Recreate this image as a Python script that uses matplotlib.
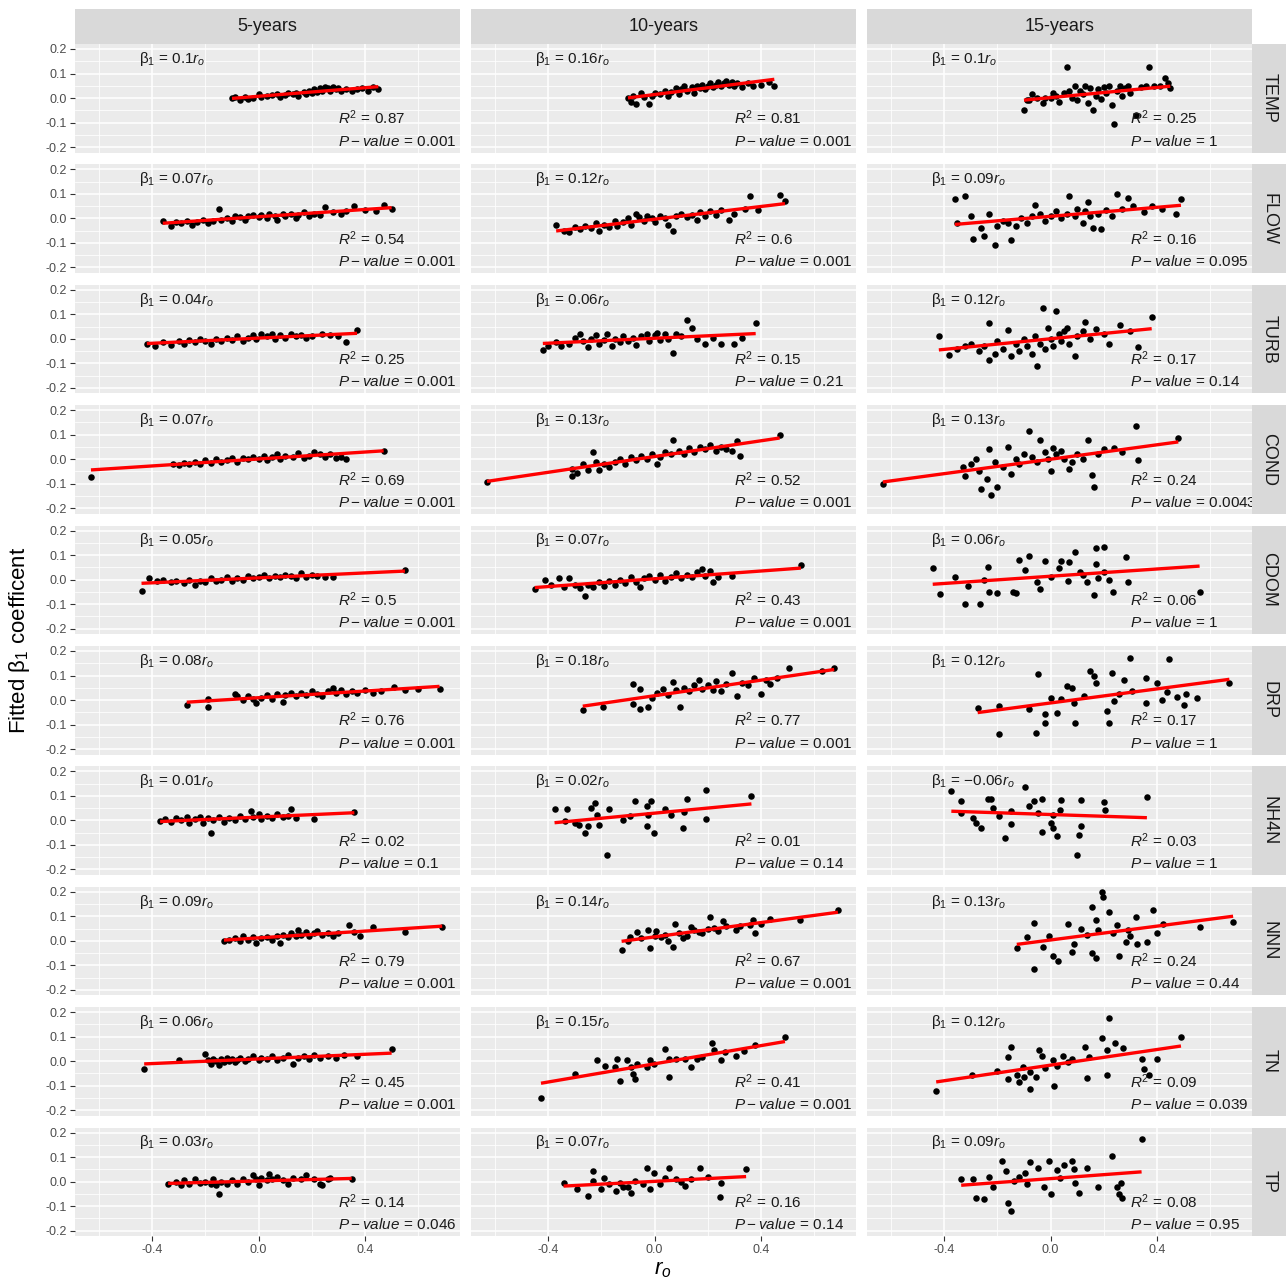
import numpy as np
import matplotlib
matplotlib.use("Agg")
import matplotlib.pyplot as plt
from matplotlib.ticker import FixedLocator

plt.rcParams["font.family"] = ["Liberation Sans", "DejaVu Sans"]
plt.rcParams["mathtext.fontset"] = "custom"
plt.rcParams["mathtext.rm"] = "Liberation Sans"
plt.rcParams["mathtext.it"] = "Liberation Sans:italic"
plt.rcParams["axes.unicode_minus"] = False

periods = ["5-years", "10-years", "15-years"]
variables = ["TEMP", "FLOW", "TURB", "COND", "CDOM", "DRP", "NH4N", "NNN", "TN", "TP"]

beta = [["0.1", "0.16", "0.1"], ["0.07", "0.12", "0.09"], ["0.04", "0.06", "0.12"],
        ["0.07", "0.13", "0.13"], ["0.05", "0.07", "0.06"], ["0.08", "0.18", "0.12"],
        ["0.01", "0.02", "−0.06"], ["0.09", "0.14", "0.13"], ["0.06", "0.15", "0.12"],
        ["0.03", "0.07", "0.09"]]
r2 = [["0.87", "0.81", "0.25"], ["0.54", "0.6", "0.16"], ["0.25", "0.15", "0.17"],
      ["0.69", "0.52", "0.24"], ["0.5", "0.43", "0.06"], ["0.76", "0.77", "0.17"],
      ["0.02", "0.01", "0.03"], ["0.79", "0.67", "0.24"], ["0.45", "0.41", "0.09"],
      ["0.14", "0.16", "0.08"]]
pval = [["0.001", "0.001", "1"], ["0.001", "0.001", "0.095"], ["0.001", "0.21", "0.14"],
        ["0.001", "0.001", "0.0043"], ["0.001", "0.001", "1"], ["0.001", "0.001", "1"],
        ["0.1", "0.14", "1"], ["0.001", "0.001", "0.44"], ["0.001", "0.001", "0.039"],
        ["0.046", "0.14", "0.95"]]

# (r_o, fitted beta1) points per panel
temp_5 = [(-0.10, 0.00), (-0.09, 0.005), (-0.07, -0.008), (-0.05, 0.003), (-0.04, -0.005), (-0.02, 0.0),
          (0.00, 0.015), (0.01, 0.005), (0.03, 0.008), (0.05, 0.012), (0.07, 0.015), (0.08, 0.005),
          (0.10, 0.012), (0.11, 0.02), (0.13, 0.015), (0.14, 0.022), (0.15, 0.01), (0.17, 0.025),
          (0.18, 0.018), (0.19, 0.03), (0.20, 0.02), (0.21, 0.035), (0.22, 0.025), (0.23, 0.04),
          (0.24, 0.03), (0.25, 0.045), (0.26, 0.04), (0.27, 0.03), (0.28, 0.045), (0.29, 0.035),
          (0.30, 0.04), (0.31, 0.028), (0.33, 0.038), (0.35, 0.03), (0.37, 0.035), (0.39, 0.04),
          (0.41, 0.03), (0.43, 0.045), (0.45, 0.035)]
temp_10 = [(-0.10, 0.0), (-0.09, -0.015), (-0.08, 0.01), (-0.07, -0.025), (-0.05, 0.02), (-0.04, 0.005),
           (-0.02, -0.025), (-0.01, 0.01), (0.0, 0.02), (0.02, 0.015), (0.04, 0.03), (0.05, 0.01),
           (0.06, 0.025), (0.08, 0.04), (0.09, 0.015), (0.10, 0.035), (0.11, 0.05), (0.12, 0.03),
           (0.14, 0.045), (0.15, 0.02), (0.16, 0.05), (0.17, 0.04), (0.18, 0.055), (0.19, 0.035),
           (0.20, 0.05), (0.21, 0.06), (0.22, 0.045), (0.23, 0.055), (0.24, 0.065), (0.25, 0.05),
           (0.26, 0.06), (0.27, 0.07), (0.28, 0.055), (0.29, 0.065), (0.30, 0.05), (0.31, 0.06),
           (0.33, 0.045), (0.35, 0.06), (0.37, 0.05), (0.40, 0.055), (0.43, 0.065), (0.45, 0.05)]
temp_15 = [(-0.10, -0.05), (-0.09, -0.01), (-0.08, -0.01), (-0.07, 0.015), (-0.05, 0.0), (-0.03, -0.02),
           (-0.02, 0.0), (0.0, 0.0), (0.01, 0.02), (0.02, 0.01), (0.03, -0.015), (0.05, 0.02),
           (0.06, 0.125), (0.07, 0.03), (0.08, 0.0), (0.09, 0.05), (0.10, -0.01), (0.11, 0.03),
           (0.12, 0.015), (0.13, 0.05), (0.14, -0.02), (0.15, 0.04), (0.16, -0.05), (0.17, 0.01),
           (0.18, 0.035), (0.19, -0.005), (0.20, 0.045), (0.21, 0.02), (0.22, 0.05), (0.23, -0.03),
           (0.24, -0.105), (0.25, 0.03), (0.26, 0.05), (0.27, 0.01), (0.28, 0.04), (0.29, 0.05),
           (0.30, 0.02), (0.32, -0.07), (0.34, 0.045), (0.36, 0.05), (0.37, 0.125), (0.39, 0.05),
           (0.41, 0.05), (0.43, 0.08), (0.44, 0.06), (0.45, 0.04)]

flow_5 = [(-0.36, -0.01), (-0.33, -0.03), (-0.31, -0.015), (-0.29, -0.02), (-0.27, -0.01), (-0.25, -0.025),
          (-0.23, -0.015), (-0.21, -0.005), (-0.19, -0.02), (-0.17, -0.01), (-0.15, 0.04), (-0.14, -0.005),
          (-0.12, 0.0), (-0.10, -0.01), (-0.09, 0.01), (-0.07, 0.005), (-0.05, -0.005), (-0.04, 0.01),
          (-0.02, 0.015), (0.0, 0.005), (0.01, 0.015), (0.03, 0.0), (0.04, 0.02), (0.06, 0.01),
          (0.07, -0.005), (0.09, 0.02), (0.10, 0.01), (0.12, 0.02), (0.14, 0.0), (0.15, 0.015),
          (0.17, 0.025), (0.19, 0.01), (0.21, 0.02), (0.23, 0.015), (0.25, 0.045), (0.28, 0.025),
          (0.31, 0.02), (0.33, 0.03), (0.36, 0.05), (0.40, 0.035), (0.44, 0.03), (0.47, 0.055),
          (0.50, 0.04)]
flow_10 = [(-0.37, -0.027), (-0.34, -0.05), (-0.32, -0.055), (-0.30, -0.035), (-0.28, -0.045), (-0.26, -0.03),
           (-0.24, -0.04), (-0.22, -0.02), (-0.21, -0.05), (-0.19, -0.025), (-0.17, -0.035), (-0.15, -0.01),
           (-0.14, -0.03), (-0.12, -0.015), (-0.10, 0.0), (-0.09, -0.025), (-0.07, 0.02), (-0.06, 0.005),
           (-0.04, -0.01), (-0.03, 0.01), (-0.01, 0.0), (0.0, -0.015), (0.02, 0.01), (0.04, 0.0),
           (0.05, -0.025), (0.07, -0.052), (0.08, 0.01), (0.10, 0.02), (0.12, 0.005), (0.14, 0.015),
           (0.16, -0.005), (0.17, 0.025), (0.19, 0.01), (0.21, 0.03), (0.23, 0.015), (0.25, 0.035),
           (0.28, -0.005), (0.30, 0.02), (0.34, 0.04), (0.36, 0.09), (0.39, 0.035), (0.47, 0.095),
           (0.49, 0.07)]
flow_15 = [(-0.36, 0.08), (-0.35, -0.02), (-0.32, 0.09), (-0.30, 0.01), (-0.29, -0.085), (-0.26, -0.04),
           (-0.25, -0.07), (-0.23, 0.02), (-0.21, -0.11), (-0.20, -0.03), (-0.18, -0.01), (-0.16, -0.02),
           (-0.15, -0.09), (-0.13, -0.03), (-0.11, 0.0), (-0.09, -0.02), (-0.07, 0.01), (-0.06, 0.055),
           (-0.04, 0.02), (-0.02, -0.01), (0.0, 0.01), (0.02, 0.03), (0.04, 0.0), (0.06, 0.02),
           (0.07, 0.09), (0.09, 0.01), (0.10, 0.04), (0.12, -0.02), (0.13, 0.03), (0.14, 0.065),
           (0.15, 0.01), (0.16, -0.04), (0.18, 0.02), (0.19, -0.045), (0.21, 0.035), (0.23, 0.01),
           (0.25, 0.10), (0.27, 0.04), (0.29, 0.085), (0.31, 0.05), (0.35, 0.025), (0.38, 0.05),
           (0.42, 0.04), (0.47, 0.02), (0.49, 0.08)]

turb_5 = [(-0.42, -0.02), (-0.39, -0.03), (-0.36, -0.015), (-0.33, -0.025), (-0.30, -0.01), (-0.28, -0.02),
          (-0.26, -0.005), (-0.24, -0.015), (-0.22, 0.0), (-0.20, -0.01), (-0.18, -0.02), (-0.16, 0.0),
          (-0.14, -0.01), (-0.12, 0.005), (-0.10, -0.005), (-0.08, 0.01), (-0.06, -0.01), (-0.04, 0.005),
          (-0.02, 0.015), (-0.01, 0.0), (0.01, 0.02), (0.03, 0.01), (0.05, 0.02), (0.06, 0.0),
          (0.08, 0.015), (0.10, 0.005), (0.12, 0.02), (0.14, 0.01), (0.16, 0.015), (0.18, 0.005),
          (0.20, 0.01), (0.24, 0.02), (0.27, 0.015), (0.30, 0.01), (0.33, -0.015), (0.37, 0.035)]
turb_10 = [(-0.42, -0.045), (-0.40, -0.03), (-0.37, -0.015), (-0.35, -0.03), (-0.32, -0.02), (-0.30, 0.005),
           (-0.28, 0.02), (-0.27, -0.01), (-0.25, -0.035), (-0.24, 0.0), (-0.22, 0.015), (-0.21, -0.02),
           (-0.19, -0.005), (-0.18, 0.02), (-0.16, -0.03), (-0.15, 0.0), (-0.13, -0.015), (-0.12, 0.01),
           (-0.10, -0.01), (-0.08, 0.005), (-0.07, -0.025), (-0.05, 0.01), (-0.03, 0.02), (-0.02, -0.01),
           (0.0, 0.015), (0.01, 0.025), (0.02, -0.005), (0.04, 0.02), (0.05, 0.0), (0.07, -0.058),
           (0.08, 0.02), (0.10, 0.01), (0.12, 0.075), (0.14, 0.045), (0.16, 0.0), (0.19, -0.02),
           (0.22, 0.005), (0.25, -0.02), (0.30, -0.02), (0.33, 0.005), (0.38, 0.065)]
turb_15 = [(-0.42, 0.01), (-0.38, -0.068), (-0.35, -0.04), (-0.32, -0.03), (-0.30, -0.02), (-0.27, -0.05),
           (-0.25, -0.03), (-0.23, 0.065), (-0.23, -0.085), (-0.21, -0.06), (-0.20, -0.01), (-0.18, -0.04),
           (-0.16, 0.035), (-0.15, -0.07), (-0.13, -0.02), (-0.12, -0.05), (-0.10, 0.0), (-0.09, -0.03),
           (-0.07, -0.06), (-0.06, 0.01), (-0.05, -0.11), (-0.04, -0.02), (-0.03, 0.125), (-0.02, -0.04),
           (-0.01, 0.045), (0.0, 0.0), (0.01, -0.03), (0.02, 0.115), (0.03, 0.02), (0.04, -0.01),
           (0.05, 0.03), (0.06, 0.045), (0.07, -0.02), (0.09, -0.07), (0.10, 0.01), (0.12, 0.03),
           (0.13, 0.07), (0.15, 0.0), (0.17, 0.04), (0.20, 0.02), (0.22, -0.02), (0.26, 0.055),
           (0.30, 0.03), (0.33, -0.035), (0.38, 0.09)]

cond_5 = [(-0.63, -0.072), (-0.32, -0.02), (-0.30, -0.025), (-0.28, -0.015), (-0.26, -0.02), (-0.24, -0.01),
          (-0.22, -0.02), (-0.20, -0.005), (-0.18, -0.015), (-0.16, 0.0), (-0.14, -0.01), (-0.12, -0.005),
          (-0.10, 0.005), (-0.08, -0.01), (-0.06, 0.005), (-0.04, 0.0), (-0.02, 0.01), (0.0, 0.0),
          (0.02, 0.015), (0.03, -0.005), (0.05, 0.01), (0.07, 0.02), (0.08, 0.0), (0.10, 0.015),
          (0.13, 0.01), (0.15, 0.025), (0.17, 0.005), (0.19, 0.015), (0.21, 0.03), (0.23, 0.02),
          (0.25, 0.01), (0.27, 0.02), (0.29, 0.005), (0.31, 0.01), (0.33, 0.0), (0.47, 0.034)]
cond_10 = [(-0.63, -0.095), (-0.31, -0.04), (-0.31, -0.07), (-0.29, -0.055), (-0.27, -0.02), (-0.25, -0.045),
           (-0.23, 0.03), (-0.22, -0.01), (-0.21, -0.045), (-0.19, -0.02), (-0.17, -0.03), (-0.15, -0.01),
           (-0.13, 0.0), (-0.11, -0.02), (-0.09, 0.01), (-0.07, -0.005), (-0.05, 0.015), (-0.03, 0.0),
           (-0.01, 0.02), (0.01, -0.02), (0.02, 0.01), (0.04, 0.03), (0.06, 0.02), (0.07, 0.08),
           (0.09, 0.035), (0.11, 0.02), (0.13, 0.045), (0.15, 0.03), (0.17, 0.05), (0.19, 0.04),
           (0.21, 0.06), (0.23, 0.035), (0.25, 0.05), (0.27, 0.04), (0.29, 0.035), (0.31, 0.075),
           (0.32, 0.015), (0.47, 0.10)]
cond_15 = [(-0.63, -0.10), (-0.33, -0.03), (-0.32, -0.07), (-0.30, -0.02), (-0.28, 0.0), (-0.27, -0.05),
           (-0.26, -0.12), (-0.24, -0.08), (-0.23, 0.04), (-0.225, -0.145), (-0.21, -0.01), (-0.20, -0.115),
           (-0.18, -0.03), (-0.16, 0.05), (-0.15, -0.06), (-0.13, 0.0), (-0.12, -0.02), (-0.10, 0.02),
           (-0.08, 0.115), (-0.07, 0.01), (-0.05, -0.01), (-0.04, 0.08), (-0.02, 0.03), (-0.01, 0.0),
           (0.0, -0.05), (0.01, 0.045), (0.02, 0.02), (0.04, 0.035), (0.05, 0.0), (0.07, -0.04),
           (0.08, -0.01), (0.10, 0.02), (0.12, 0.0), (0.14, 0.08), (0.155, -0.065), (0.165, -0.115),
           (0.18, 0.02), (0.20, 0.04), (0.24, 0.045), (0.27, 0.03), (0.32, 0.135), (0.33, -0.005),
           (0.48, 0.085)]

cdom_5 = [(-0.44, -0.045), (-0.41, 0.005), (-0.38, -0.005), (-0.36, 0.0), (-0.33, -0.01), (-0.31, -0.005),
          (-0.28, -0.015), (-0.26, 0.0), (-0.24, -0.02), (-0.22, -0.005), (-0.20, -0.01), (-0.18, 0.005),
          (-0.16, -0.005), (-0.14, 0.0), (-0.12, 0.01), (-0.10, -0.005), (-0.08, 0.005), (-0.06, 0.0),
          (-0.04, 0.015), (-0.02, 0.005), (0.0, 0.01), (0.02, 0.02), (0.04, 0.005), (0.06, 0.015),
          (0.08, 0.01), (0.10, 0.02), (0.12, 0.015), (0.14, 0.005), (0.16, 0.025), (0.18, 0.01),
          (0.20, 0.02), (0.22, 0.015), (0.25, 0.01), (0.28, 0.01), (0.55, 0.04)]
cdom_10 = [(-0.45, -0.04), (-0.41, 0.0), (-0.39, -0.02), (-0.36, 0.005), (-0.34, -0.03), (-0.32, 0.005),
           (-0.30, -0.02), (-0.28, -0.035), (-0.26, -0.065), (-0.25, -0.02), (-0.23, -0.03), (-0.21, -0.01),
           (-0.19, -0.025), (-0.17, -0.005), (-0.15, -0.02), (-0.13, 0.0), (-0.11, -0.015), (-0.09, 0.01),
           (-0.07, -0.01), (-0.055, -0.03), (-0.04, 0.005), (-0.02, 0.015), (0.0, 0.0), (0.02, 0.02),
           (0.04, -0.005), (0.06, 0.01), (0.08, 0.025), (0.10, 0.005), (0.12, 0.02), (0.14, 0.01),
           (0.16, 0.03), (0.18, 0.045), (0.19, 0.015), (0.21, 0.035), (0.22, -0.01), (0.24, 0.01),
           (0.29, 0.015), (0.55, 0.06)]
cdom_15 = [(-0.443, 0.046), (-0.415, -0.06), (-0.36, 0.012), (-0.32, -0.10), (-0.265, -0.10), (-0.31, -0.027),
           (-0.236, 0.05), (-0.23, -0.05), (-0.20, -0.055), (-0.14, -0.05), (-0.13, -0.055), (-0.12, 0.08),
           (-0.08, 0.098), (-0.096, 0.04), (-0.05, -0.008), (-0.02, 0.077), (0.03, 0.046), (0.04, 0.077),
           (0.07, 0.07), (0.09, 0.114), (0.065, -0.004), (0.11, 0.03), (0.164, -0.063), (0.17, 0.128),
           (0.20, 0.132), (0.17, 0.064), (0.18, 0.007), (0.20, 0.03), (0.235, -0.05), (0.285, 0.091),
           (0.29, -0.008), (0.56, -0.05), (0.136, -0.008), (-0.04, -0.038), (-0.25, 0.0), (0.0, 0.01),
           (0.12, 0.02), (0.22, 0.0)]

drp_5 = [(-0.27, -0.02), (-0.19, -0.03), (-0.19, 0.003), (-0.09, 0.025), (-0.08, 0.015), (-0.06, 0.0),
         (-0.04, 0.015), (-0.02, 0.005), (-0.01, -0.012), (0.01, 0.01), (0.03, 0.02), (0.05, 0.005),
         (0.07, 0.025), (0.09, -0.008), (0.10, 0.02), (0.12, 0.03), (0.14, 0.015), (0.16, 0.03),
         (0.18, 0.02), (0.20, 0.035), (0.22, 0.025), (0.24, 0.015), (0.26, 0.035), (0.28, 0.05),
         (0.29, 0.03), (0.31, 0.04), (0.33, 0.025), (0.35, 0.035), (0.37, 0.03), (0.40, 0.04),
         (0.43, 0.03), (0.46, 0.035), (0.51, 0.055), (0.55, 0.04), (0.60, 0.045), (0.68, 0.045)]
drp_10 = [(-0.27, -0.04), (-0.195, -0.027), (-0.08, 0.064), (-0.08, -0.018), (-0.055, 0.044), (-0.055, -0.035),
          (-0.025, -0.027), (-0.01, 0.01), (0.01, 0.03), (0.03, 0.046), (0.05, 0.02), (0.068, 0.073),
          (0.08, 0.04), (0.095, -0.029), (0.11, 0.05), (0.13, 0.035), (0.15, 0.06), (0.167, 0.082),
          (0.18, 0.045), (0.20, 0.06), (0.22, 0.04), (0.232, 0.078), (0.25, 0.037), (0.27, 0.065),
          (0.29, 0.11), (0.31, 0.016), (0.33, 0.07), (0.35, 0.06), (0.375, 0.091), (0.40, 0.023),
          (0.42, 0.08), (0.435, 0.064), (0.46, 0.09), (0.505, 0.132), (0.63, 0.118), (0.675, 0.13)]
drp_15 = [(-0.274, -0.031), (-0.195, -0.024), (-0.195, -0.137), (-0.082, -0.035), (-0.048, 0.105),
          (-0.054, -0.136), (-0.02, -0.058), (-0.02, -0.093), (0.003, 0.01), (0.023, -0.052), (0.04, 0.005),
          (0.06, 0.057), (0.08, 0.05), (0.088, -0.014), (0.093, -0.093), (0.127, 0.016), (0.15, 0.118),
          (0.164, 0.10), (0.172, 0.07), (0.212, -0.045), (0.22, -0.093), (0.23, 0.111), (0.24, -0.004),
          (0.257, 0.023), (0.277, 0.082), (0.30, 0.173), (0.305, 0.037), (0.36, 0.09), (0.36, -0.011),
          (0.40, 0.07), (0.446, 0.169), (0.438, 0.033), (0.475, 0.014), (0.51, 0.023), (0.503, -0.022),
          (0.42, 0.0), (0.55, 0.01), (0.672, 0.07)]

nh4n_5 = [(-0.37, -0.002), (-0.35, 0.005), (-0.33, -0.005), (-0.31, 0.01), (-0.29, 0.0), (-0.27, 0.015),
          (-0.26, -0.01), (-0.24, 0.005), (-0.22, 0.015), (-0.21, -0.01), (-0.19, 0.01), (-0.18, -0.052),
          (-0.17, 0.0), (-0.15, 0.015), (-0.13, -0.005), (-0.11, 0.01), (-0.09, 0.0), (-0.07, 0.02),
          (-0.05, 0.005), (-0.03, 0.04), (-0.02, 0.015), (0.0, 0.025), (0.01, 0.005), (0.03, 0.02),
          (0.05, 0.01), (0.07, 0.025), (0.09, 0.015), (0.11, 0.02), (0.12, 0.045), (0.14, 0.01),
          (0.21, 0.005), (0.36, 0.035)]
nh4n_10 = [(-0.376, 0.048), (-0.328, 0.048), (-0.336, -0.004), (-0.285, -0.018), (-0.26, -0.052),
           (-0.25, -0.024), (-0.238, 0.05), (-0.215, 0.023), (-0.225, 0.071), (-0.21, -0.018), (-0.178, -0.14),
           (-0.172, 0.046), (-0.093, 0.016), (-0.073, 0.08), (-0.03, 0.057), (-0.025, 0.023), (-0.014, 0.08),
           (-0.03, -0.024), (-0.003, -0.052), (0.04, 0.048), (0.062, 0.023), (0.11, 0.033), (0.105, -0.031),
           (0.12, 0.088), (0.195, 0.125), (0.195, 0.007), (0.364, 0.098), (-0.30, -0.01), (-0.12, 0.0)]
nh4n_15 = [(-0.373, 0.118), (-0.336, 0.078), (-0.336, 0.03), (-0.29, 0.01), (-0.28, -0.011), (-0.26, -0.029),
           (-0.237, 0.088), (-0.218, 0.05), (-0.223, 0.088), (-0.195, 0.016), (-0.17, -0.072), (-0.147, -0.014),
           (-0.096, 0.136), (-0.082, 0.057), (-0.062, 0.078), (-0.048, 0.03), (-0.034, 0.087), (-0.034, -0.048),
           (0.003, -0.011), (0.008, -0.031), (0.023, -0.063), (0.037, 0.044), (0.04, 0.084), (0.116, 0.084),
           (0.116, -0.024), (0.107, -0.058), (0.10, -0.14), (0.20, 0.075), (0.206, 0.044), (0.362, 0.094),
           (-0.147, 0.037), (0.008, 0.023)]

nnn_5 = [(-0.13, 0.0), (-0.11, 0.005), (-0.09, 0.01), (-0.07, 0.0), (-0.06, 0.02), (-0.04, 0.005),
         (-0.02, 0.015), (-0.01, -0.007), (0.01, 0.01), (0.03, 0.015), (0.05, 0.005), (0.07, 0.02),
         (0.08, -0.008), (0.09, 0.025), (0.11, 0.015), (0.12, 0.03), (0.14, 0.02), (0.15, 0.045),
         (0.16, 0.025), (0.18, 0.035), (0.19, 0.02), (0.21, 0.03), (0.22, 0.04), (0.24, 0.025),
         (0.26, 0.03), (0.28, 0.02), (0.30, 0.03), (0.34, 0.065), (0.36, 0.035), (0.38, 0.02),
         (0.43, 0.055), (0.55, 0.035), (0.69, 0.057)]
nnn_10 = [(-0.124, -0.038), (-0.093, 0.016), (-0.065, 0.037), (-0.025, 0.044), (-0.017, -0.031), (0.006, 0.04),
          (0.025, 0.016), (0.068, -0.024), (0.076, 0.068), (0.105, 0.01), (0.138, 0.057), (0.167, 0.037),
          (0.21, 0.098), (0.223, 0.054), (0.257, 0.08), (0.307, 0.044), (0.358, 0.064), (0.37, 0.084),
          (0.378, 0.03), (0.435, 0.091), (0.548, 0.084), (0.689, 0.125), (-0.10, 0.0), (-0.05, 0.01),
          (0.0, 0.02), (0.04, 0.025), (0.05, 0.0), (0.09, 0.03), (0.12, 0.02), (0.15, 0.045),
          (0.18, 0.03), (0.20, 0.05), (0.24, 0.04), (0.27, 0.06), (0.32, 0.06), (0.40, 0.07)]
nnn_15 = [(-0.127, -0.029), (-0.09, 0.016), (-0.062, 0.073), (-0.062, -0.117), (-0.028, -0.024), (0.008, -0.061),
          (0.028, -0.082), (-0.006, 0.019), (0.065, 0.068), (0.079, -0.045), (0.088, -0.011), (0.116, 0.05),
          (0.136, 0.023), (0.155, 0.139), (0.155, -0.049), (0.17, -0.072), (0.17, 0.084), (0.178, 0.046),
          (0.192, 0.20), (0.198, 0.18), (0.22, 0.118), (0.235, 0.03), (0.249, 0.064), (0.257, -0.063),
          (0.285, -0.004), (0.29, 0.044), (0.32, 0.098), (0.325, -0.011), (0.362, -0.004), (0.384, 0.125),
          (0.424, 0.068), (0.56, 0.057), (0.686, 0.078), (0.30, 0.02), (0.40, 0.03)]

tn_5 = [(-0.43, -0.03), (-0.30, 0.003), (-0.20, 0.03), (-0.19, 0.005), (-0.18, -0.01), (-0.17, 0.01),
        (-0.16, 0.0), (-0.15, -0.015), (-0.14, 0.01), (-0.13, -0.005), (-0.12, 0.015), (-0.11, 0.0),
        (-0.10, 0.01), (-0.09, -0.005), (-0.08, 0.005), (-0.07, 0.015), (-0.05, 0.0), (-0.04, 0.01),
        (-0.02, 0.02), (0.0, 0.005), (0.01, 0.015), (0.03, 0.01), (0.05, 0.02), (0.07, 0.005),
        (0.09, 0.015), (0.11, 0.025), (0.13, -0.01), (0.15, 0.015), (0.17, 0.02), (0.19, 0.01),
        (0.21, 0.025), (0.23, 0.015), (0.26, 0.02), (0.29, 0.015), (0.32, 0.025), (0.37, 0.02),
        (0.50, 0.048)]
tn_10 = [(-0.427, -0.15), (-0.30, -0.052), (-0.215, 0.003), (-0.15, -0.024), (-0.14, 0.01), (-0.13, -0.079),
         (-0.102, 0.003), (-0.082, -0.052), (-0.073, -0.072), (-0.065, -0.011), (-0.03, -0.024), (-0.017, 0.003),
         (0.04, 0.048), (0.054, -0.065), (0.054, 0.01), (0.082, 0.01), (0.116, 0.01), (0.138, -0.024),
         (0.161, 0.01), (0.18, 0.019), (0.217, 0.073), (0.223, 0.044), (0.25, 0.005), (0.265, 0.037),
         (0.307, 0.023), (0.336, 0.041), (0.378, 0.067), (0.49, 0.098), (-0.186, -0.018), (-0.003, -0.011),
         (-0.088, -0.024)]
tn_15 = [(-0.43, -0.12), (-0.297, -0.056), (-0.203, -0.041), (-0.16, 0.016), (-0.147, 0.06), (-0.16, -0.072),
         (-0.127, -0.058), (-0.12, -0.086), (-0.10, -0.063), (-0.076, -0.045), (-0.076, -0.113), (-0.054, -0.065),
         (-0.042, 0.044), (-0.034, 0.023), (-0.02, -0.027), (0.014, -0.103), (0.023, -0.018), (0.045, 0.023),
         (0.065, -0.004), (0.08, 0.01), (0.13, 0.057), (0.136, -0.068), (0.144, 0.019), (0.192, 0.095),
         (0.212, -0.058), (0.22, 0.177), (0.212, 0.046), (0.243, 0.073), (0.271, 0.054), (0.342, 0.01),
         (0.37, -0.058), (0.49, 0.098), (0.01, 0.003), (-0.105, -0.024), (0.35, -0.03), (0.40, 0.01)]

tp_5 = [(-0.34, -0.01), (-0.31, 0.0), (-0.29, -0.015), (-0.28, 0.005), (-0.26, -0.01), (-0.24, 0.01),
        (-0.22, -0.005), (-0.20, 0.0), (-0.18, -0.01), (-0.17, 0.01), (-0.16, -0.015), (-0.15, -0.05),
        (-0.14, 0.0), (-0.12, -0.01), (-0.10, 0.005), (-0.08, -0.01), (-0.06, 0.01), (-0.04, 0.0),
        (-0.02, 0.025), (-0.01, 0.01), (0.0, -0.015), (0.01, 0.015), (0.03, 0.005), (0.04, 0.03),
        (0.05, 0.01), (0.07, 0.02), (0.09, 0.005), (0.11, -0.01), (0.13, 0.015), (0.16, 0.01),
        (0.18, 0.025), (0.21, 0.01), (0.23, -0.01), (0.24, -0.015), (0.26, 0.01), (0.27, 0.015),
        (0.35, 0.01)]
tp_10 = [(-0.342, -0.004), (-0.29, -0.031), (-0.25, -0.058), (-0.23, 0.044), (-0.23, 0.003), (-0.19, 0.016),
         (-0.17, -0.011), (-0.144, -0.038), (-0.13, -0.004), (-0.088, -0.045), (-0.073, 0.003), (-0.03, 0.057),
         (-0.017, -0.031), (-0.003, 0.037), (0.02, -0.008), (0.054, 0.054), (0.082, 0.01), (0.116, -0.018),
         (0.138, 0.01), (0.172, 0.057), (0.25, -0.004), (0.245, -0.061), (0.344, 0.05), (-0.12, -0.024),
         (-0.20, -0.029), (-0.045, -0.011), (0.04, 0.016), (-0.10, -0.02), (0.10, 0.0), (0.20, 0.02)]
tp_15 = [(-0.336, 0.01), (-0.29, 0.01), (-0.28, -0.065), (-0.25, -0.072), (-0.23, 0.019), (-0.218, -0.024),
         (-0.184, 0.084), (-0.167, 0.044), (-0.16, -0.086), (-0.147, -0.12), (-0.138, 0.003), (-0.12, 0.019),
         (-0.096, 0.037), (-0.076, 0.078), (-0.09, -0.008), (-0.048, 0.057), (-0.025, -0.024), (-0.006, 0.084),
         (0.003, -0.052), (0.023, 0.046), (0.037, 0.016), (0.05, 0.068), (0.08, 0.084), (0.088, 0.05),
         (0.093, -0.004), (0.107, -0.045), (0.136, 0.057), (0.178, -0.022), (0.23, 0.105), (0.249, -0.022),
         (0.257, -0.052), (0.263, -0.004), (0.342, 0.173), (0.268, -0.065)]

points = [[temp_5, temp_10, temp_15], [flow_5, flow_10, flow_15], [turb_5, turb_10, turb_15],
          [cond_5, cond_10, cond_15], [cdom_5, cdom_10, cdom_15], [drp_5, drp_10, drp_15],
          [nh4n_5, nh4n_10, nh4n_15], [nnn_5, nnn_10, nnn_15], [tn_5, tn_10, tn_15],
          [tp_5, tp_10, tp_15]]

W, H = 1286, 1283
fig = plt.figure(figsize=(W / 100, H / 100), dpi=100)


def box(x, y, w, h):
    return [x / W, 1 - (y + h) / H, w / W, h / H]


lefts = [75, 471, 867]
pw, ph = 385, 108.5
row_step = 120.4
ann = 11

for r in range(len(variables)):
    top = 44 + r * row_step
    for c in range(3):
        ax = fig.add_axes(box(lefts[c], top, pw, ph))
        ax.set_facecolor("#EBEBEB")
        ax.set_xlim(-0.69, 0.757)
        ax.set_ylim(-0.2224, 0.2204)
        ax.xaxis.set_major_locator(FixedLocator([-0.4, 0.0, 0.4]))
        ax.xaxis.set_minor_locator(FixedLocator([-0.6, -0.2, 0.2, 0.6]))
        ax.yaxis.set_major_locator(FixedLocator([-0.2, -0.1, 0.0, 0.1, 0.2]))
        ax.yaxis.set_minor_locator(FixedLocator([-0.15, -0.05, 0.05, 0.15]))
        ax.grid(which="major", color="white", lw=1.1)
        ax.grid(which="minor", color="white", lw=0.55)
        ax.set_axisbelow(True)
        for s in ax.spines.values():
            s.set_visible(False)
        ax.tick_params(which="minor", length=0)
        ax.tick_params(which="major", color="#333333", width=0.8, length=3.5,
                       labelsize=9, labelcolor="#4D4D4D", pad=2)
        ax.set_yticklabels(["-0.2", "-0.1", "0.0", "0.1", "0.2"])
        ax.set_xticklabels(["-0.4", "0.0", "0.4"])
        if c != 0:
            ax.tick_params(axis="y", which="major", length=0, labelleft=False)
        if r != len(variables) - 1:
            ax.tick_params(axis="x", which="major", length=0, labelbottom=False)

        pts = np.array(points[r][c])
        ax.scatter(pts[:, 0], pts[:, 1], s=22, c="black", linewidths=0, zorder=3)
        k, b = np.polyfit(pts[:, 0], pts[:, 1], 1)
        xs = np.array([pts[:, 0].min(), pts[:, 0].max()])
        ax.plot(xs, k * xs + b, color="red", lw=2.4, zorder=4, solid_capstyle="butt")

        ax.text(-0.45, 0.16, "β$_1$ = " + beta[r][c] + "$r_o$", fontsize=ann,
                color="#1A1A1A", ha="left", va="center", clip_on=True)
        ax.text(0.3, -0.082, "$R^2\\,=\\," + r2[r][c] + "$", fontsize=ann,
                color="#1A1A1A", ha="left", va="center", clip_on=True)
        ax.text(0.3, -0.176, "$P - value\\,=\\," + pval[r][c] + "$", fontsize=ann,
                color="#1A1A1A", ha="left", va="center", clip_on=True)

    sax = fig.add_axes(box(1252, top, 34, ph))
    sax.set_facecolor("#D9D9D9")
    sax.set_xticks([])
    sax.set_yticks([])
    for s in sax.spines.values():
        s.set_visible(False)
    sax.text(0.5, 0.5, variables[r], rotation=-90, ha="center", va="center",
             fontsize=13, color="#1A1A1A", transform=sax.transAxes)

for c in range(3):
    sax = fig.add_axes(box(lefts[c], 9, pw, 35))
    sax.set_facecolor("#D9D9D9")
    sax.set_xticks([])
    sax.set_yticks([])
    for s in sax.spines.values():
        s.set_visible(False)
    sax.text(0.5, 0.5, periods[c], ha="center", va="center", fontsize=13,
             color="#1A1A1A", transform=sax.transAxes)

fig.text(20 / W, 1 - 640 / H, "Fitted β$_1$ coefficent", rotation=90, ha="center",
         va="center", fontsize=16, color="black")
fig.text(663 / W, 1 - 1270 / H, "$r_o$", ha="center", va="center", fontsize=16,
         color="black")

fig.savefig("out.png", dpi=100, facecolor="white")
